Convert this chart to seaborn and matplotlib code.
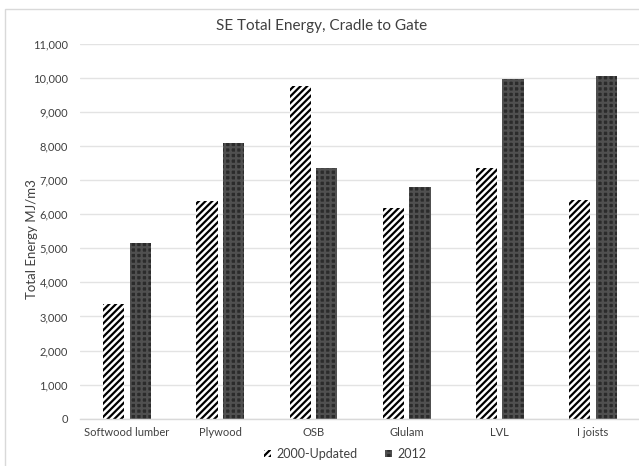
import matplotlib
matplotlib.use("Agg")
import matplotlib.pyplot as plt
from matplotlib.patches import Patch, Rectangle
from matplotlib.ticker import FuncFormatter
import pandas as pd
import seaborn as sns

# Embodied energy by product, MJ per cubic metre
products = ["Softwood lumber", "Plywood", "OSB", "Glulam", "LVL", "I joists"]
series_names = ["2000-Updated", "2012"]
energy_2000 = [3370, 6380, 9760, 6180, 7350, 6420]
energy_2012 = [5150, 8080, 7350, 6800, 9960, 10050]
y_ticks = list(range(0, 11001, 1000))

df = pd.DataFrame({
    "Product": products * 2,
    "Series": [series_names[0]] * len(products) + [series_names[1]] * len(products),
    "Energy": energy_2000 + energy_2012,
})

sns.set_theme(style="white")
plt.rcParams["font.family"] = ["Lato", "DejaVu Sans"]
plt.rcParams["hatch.linewidth"] = 1.6

text_color = "#404040"

fig = plt.figure(figsize=(6.39, 4.66), dpi=100)
ax = fig.add_axes([0.1258, 0.1013, 0.8752, 0.8049])

sns.barplot(data=df, x="Product", y="Energy", hue="Series", order=products,
            hue_order=series_names, width=0.57, gap=0.2, ax=ax, legend=False)

styles = [
    dict(facecolor="white", edgecolor="black", hatch="/////"),
    dict(facecolor="#2b2b2b", edgecolor="#505050", hatch="+++"),
]
for container, st in zip(ax.containers, styles):
    for bar in container:
        bar.set_facecolor(st["facecolor"])
        bar.set_edgecolor(st["edgecolor"])
        bar.set_hatch(st["hatch"])
        bar.set_linewidth(0)

ax.set_ylim(0, 11000)
ax.set_yticks(y_ticks)
ax.yaxis.set_major_formatter(FuncFormatter(lambda v, _: f"{int(v):,}"))
ax.grid(axis="y", color="#e3e3e3", linewidth=1.0)
ax.set_axisbelow(True)
for side in ["top", "right", "left"]:
    ax.spines[side].set_visible(False)
ax.spines["bottom"].set_color("#d9d9d9")
ax.spines["bottom"].set_linewidth(1.0)
ax.tick_params(axis="both", length=0, labelsize=8, colors=text_color, pad=6)
ax.tick_params(axis="y", pad=9)
ax.set_xlabel("")
ax.set_ylabel("Total Energy MJ/m3", fontsize=9.5, color=text_color)
ax.yaxis.set_label_coords(-0.075, 0.48)

fig.text(0.504, 0.945, "SE Total Energy, Cradle to Gate", ha="center", va="center",
         fontsize=11, color=text_color)

handles = [Patch(facecolor=st["facecolor"], edgecolor=st["edgecolor"], hatch=st["hatch"],
                 linewidth=0) for st in styles]
fig.legend(handles, series_names, loc="center", bbox_to_anchor=(0.54, 0.026),
           ncol=2, frameon=False, fontsize=9, handlelength=0.6, handleheight=0.6,
           handletextpad=0.4, columnspacing=2.2, labelcolor=text_color)

# thin border around the whole chart area
fig.patches.append(Rectangle((5 / 639, -0.01), 1.0, 1 - 9 / 466 + 0.01,
                             transform=fig.transFigure, fill=False,
                             edgecolor="#d9d9d9", linewidth=1.0))

fig.savefig("out.png", dpi=100)
